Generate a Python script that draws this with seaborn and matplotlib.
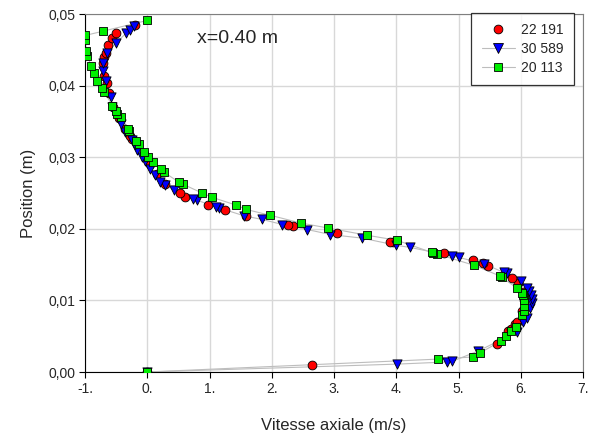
import matplotlib
matplotlib.use("Agg")
import matplotlib.pyplot as plt
from matplotlib.lines import Line2D
from matplotlib.ticker import FuncFormatter
import numpy as np
import pandas as pd
import seaborn as sns

# Axial velocity profiles at x = 0.40 m for three Reynolds numbers
series_names = ["22 191", "30 589", "20 113"]

re22191_u = [0.00, 2.65, 5.62, 5.80, 5.84, 5.91, 5.94, 6.02, 6.06, 6.04, 5.96, 5.86,
             5.47, 5.40, 5.23, 4.77, 3.95, 3.90, 3.05, 2.34, 2.26, 1.58, 1.25, 0.97,
             0.60, 0.53, 0.29, 0.16, 0.05, -0.06, -0.24, -0.27, -0.35, -0.45, -0.55,
             -0.61, -0.64, -0.69, -0.71, -0.69, -0.67, -0.63, -0.56, -0.50, -0.19]
re22191_y = [0.0000, 0.0010, 0.0039, 0.0057, 0.0060, 0.0067, 0.0070, 0.0085, 0.0100, 0.0112,
             0.0124, 0.0131, 0.0148, 0.0152, 0.0157, 0.0166, 0.0181, 0.0182, 0.0194, 0.0204,
             0.0206, 0.0218, 0.0226, 0.0233, 0.0245, 0.0250, 0.0263, 0.0277, 0.0291, 0.0305,
             0.0326, 0.0330, 0.0340, 0.0355, 0.0370, 0.0389, 0.0403, 0.0414, 0.0431, 0.0440,
             0.0446, 0.0457, 0.0466, 0.0474, 0.0485]

re30589_u = [0.00, 4.01, 4.81, 4.90, 5.31, 5.94, 6.04, 6.10, 6.15, 6.18, 6.18, 6.16, 6.14,
             6.10, 6.00, 5.78, 5.73, 5.41, 5.01, 4.90, 4.22, 4.00, 3.45, 2.94, 2.57, 2.17,
             1.85, 1.56, 1.16, 1.11, 0.80, 0.74, 0.43, 0.29, 0.21, 0.13, 0.05, -0.03, -0.08,
             -0.16, -0.19, -0.24, -0.35, -0.42, -0.56, -0.59, -0.67, -0.71, -0.71, -0.64,
             -0.50, -0.34, -0.27, -0.22]
re30589_y = [0.0000, 0.0011, 0.0014, 0.0015, 0.0029, 0.0056, 0.0070, 0.0075, 0.0089, 0.0096,
             0.0102, 0.0107, 0.0113, 0.0118, 0.0127, 0.0138, 0.0139, 0.0151, 0.0160, 0.0162,
             0.0174, 0.0177, 0.0187, 0.0192, 0.0199, 0.0206, 0.0213, 0.0218, 0.0229, 0.0230,
             0.0240, 0.0241, 0.0254, 0.0261, 0.0266, 0.0275, 0.0283, 0.0294, 0.0300, 0.0310,
             0.0317, 0.0324, 0.0335, 0.0347, 0.0370, 0.0384, 0.0406, 0.0420, 0.0431, 0.0445,
             0.0460, 0.0473, 0.0477, 0.0483]

re20113_u = [0.00, 4.67, 5.23, 5.35, 5.68, 5.76, 5.84, 5.92, 6.02, 6.05, 6.05, 6.05, 6.04,
             6.02, 5.94, 5.70, 5.67, 5.25, 4.65, 4.59, 4.57, 4.01, 3.53, 2.91, 2.47, 1.97,
             1.59, 1.43, 1.04, 0.88, 0.58, 0.51, 0.27, 0.22, 0.10, 0.02, -0.06, -0.14, -0.18,
             -0.29, -0.31, -0.42, -0.48, -0.51, -0.56, -0.69, -0.72, -0.80, -0.85, -0.90,
             -0.96, -0.98, -1.00, -1.00, -0.71, 0.00]
re20113_y = [0.0000, 0.0018, 0.0021, 0.0027, 0.0043, 0.0050, 0.0057, 0.0063, 0.0079, 0.0085,
             0.0092, 0.0100, 0.0107, 0.0110, 0.0117, 0.0132, 0.0134, 0.0149, 0.0165, 0.0166,
             0.0167, 0.0184, 0.0191, 0.0201, 0.0208, 0.0219, 0.0227, 0.0233, 0.0244, 0.0250,
             0.0262, 0.0265, 0.0279, 0.0283, 0.0293, 0.0300, 0.0307, 0.0318, 0.0322, 0.0336,
             0.0340, 0.0356, 0.0360, 0.0364, 0.0372, 0.0391, 0.0397, 0.0407, 0.0418, 0.0427,
             0.0441, 0.0448, 0.0464, 0.0470, 0.0476, 0.0491]

x_ticks = [-1, 0, 1, 2, 3, 4, 5, 6, 7]
y_ticks = [0.00, 0.01, 0.02, 0.03, 0.04, 0.05]

frames = []
for name, u, y in zip(series_names,
                      [re22191_u, re30589_u, re20113_u],
                      [re22191_y, re30589_y, re20113_y]):
    frames.append(pd.DataFrame({"u": u, "y": y, "serie": name,
                                "ordre": np.arange(len(u))}))
df = pd.concat(frames, ignore_index=True)

sns.set_style("white")
plt.rcParams["font.family"] = ["Liberation Sans", "DejaVu Sans"]

fig = plt.figure(figsize=(5.89, 4.34), dpi=100)
ax = fig.add_axes([85 / 589, 62 / 434, 498 / 589, 358 / 434])

styles = {
    "22 191": dict(marker="o", color="#ff0000", line=False, s=40),
    "30 589": dict(marker="v", color="#0000ff", line=True, s=44),
    "20 113": dict(marker="s", color="#00ee00", line=True, s=37),
}

for name in series_names:
    sub = df[df["serie"] == name]
    st = styles[name]
    if st["line"]:
        sns.lineplot(data=sub, x="u", y="y", sort=False, estimator=None,
                     color="#bdbdbd", linewidth=0.8, ax=ax, zorder=2)
    sns.scatterplot(data=sub, x="u", y="y", marker=st["marker"], color=st["color"],
                    s=st["s"], edgecolor="black", linewidth=0.6,
                    ax=ax, zorder=3, legend=False)

ax.set_xlim(-1, 7)
ax.set_ylim(0, 0.05)
ax.set_xticks(x_ticks)
ax.set_yticks(y_ticks)
ax.xaxis.set_major_formatter(FuncFormatter(lambda v, p: f"{int(round(v))}."))
ax.yaxis.set_major_formatter(FuncFormatter(lambda v, p: f"{v:.2f}".replace(".", ",")))
ax.grid(True, color="#d8d8d8", linewidth=1.0)
ax.set_axisbelow(True)
ax.tick_params(axis="both", direction="out", length=4, width=0.8, color="black",
               labelsize=10, pad=3, bottom=True, left=True)

for side in ["left", "bottom"]:
    ax.spines[side].set_color("black")
    ax.spines[side].set_linewidth(0.8)
for side in ["top", "right"]:
    ax.spines[side].set_visible(True)
    ax.spines[side].set_color("#7f7f7f")
    ax.spines[side].set_linewidth(0.8)

ax.set_xlabel("Vitesse axiale (m/s)", fontsize=12, labelpad=16)
ax.set_ylabel("Position (m)", fontsize=12, labelpad=9)

ax.text(0.80, 0.0466, "x=0.40 m", fontsize=14, ha="left", va="center")

handles = [
    Line2D([], [], marker="o", color="none", markerfacecolor="#ff0000",
           markeredgecolor="black", markeredgewidth=0.6, markersize=6.3),
    Line2D([], [], marker="v", color="#bdbdbd", linewidth=0.8, markerfacecolor="#0000ff",
           markeredgecolor="black", markeredgewidth=0.6, markersize=6.8),
    Line2D([], [], marker="s", color="#bdbdbd", linewidth=0.8, markerfacecolor="#00ee00",
           markeredgecolor="black", markeredgewidth=0.6, markersize=6),
]
leg = ax.legend(handles, series_names, loc="upper right",
                bbox_to_anchor=((574 - 85) / 498, 1.003), borderaxespad=0,
                fontsize=10, frameon=True, fancybox=False, edgecolor="black",
                handlelength=2.4, handletextpad=0.45, borderpad=0.75,
                labelspacing=0.35)
leg.get_frame().set_linewidth(0.9)

fig.savefig("out.png", dpi=100)
